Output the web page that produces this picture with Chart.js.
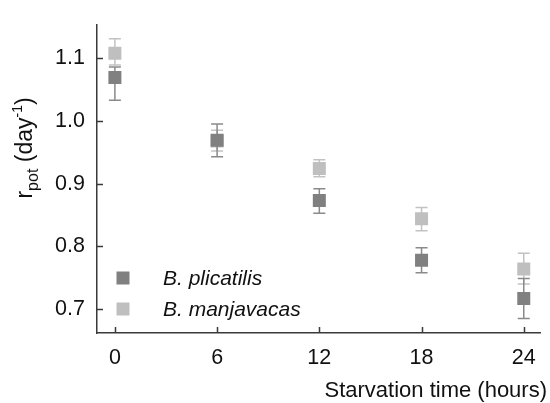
<!DOCTYPE html>
<html>
<head>
<meta charset="utf-8">
<script src="https://cdn.jsdelivr.net/npm/chart.js"></script>
<style>
  body { margin: 0; background: #fff; }
  #wrap { width: 550px; height: 403px; }
</style>
</head>
<body>
<div id="wrap"><canvas id="rpotChart" width="550" height="403"></canvas></div>
<script>
// starvation time (hours)
const times = [0, 6, 12, 18, 24];
const xTicks = [0, 6, 12, 18, 24];
const yTicks = [0.7, 0.8, 0.9, 1.0, 1.1];

// B. plicatilis
const plicatilis = [1.069, 0.969, 0.873, 0.778, 0.717];
const plicatilisLow = [1.033, 0.943, 0.853, 0.758, 0.685];
const plicatilisHigh = [1.086, 0.995, 0.892, 0.798, 0.749];

// B. manjavacas
const manjavacas = [1.108, 0.968, 0.924, 0.844, 0.764];
const manjavacasLow = [1.089, 0.952, 0.911, 0.825, 0.740];
const manjavacasHigh = [1.131, 0.985, 0.938, 0.862, 0.789];

const darkGray = '#808080';
const lightGray = '#bfbfbf';
const axisColor = '#3a3a3a';
const font = "'Liberation Sans', Arial, sans-serif";

const errorBars = {
    id: 'errorBars',
    beforeDatasetDraw(chart, args) {
        const ds = chart.data.datasets[args.index];
        const x = chart.scales.x, y = chart.scales.y;
        const ctx = chart.ctx;
        ctx.save();
        ctx.strokeStyle = ds.errColor;
        ctx.lineWidth = 1.5;
        ds.data.forEach((p, i) => {
            const px = x.getPixelForValue(p.x);
            const lo = y.getPixelForValue(ds.low[i]);
            const hi = y.getPixelForValue(ds.high[i]);
            ctx.beginPath();
            ctx.moveTo(px, lo); ctx.lineTo(px, hi);
            ctx.moveTo(px - 6, lo); ctx.lineTo(px + 6, lo);
            ctx.moveTo(px - 6, hi); ctx.lineTo(px + 6, hi);
            ctx.stroke();
        });
        ctx.restore();
    },
    afterDraw(chart) {
        const ctx = chart.ctx;
        const area = chart.chartArea;
        const x = chart.scales.x, y = chart.scales.y;
        ctx.save();
        // inward ticks
        ctx.strokeStyle = axisColor;
        ctx.lineWidth = 1.5;
        ctx.beginPath();
        yTicks.forEach(v => {
            const py = Math.round(y.getPixelForValue(v)) + 0.5;
            ctx.moveTo(area.left, py); ctx.lineTo(area.left + 6, py);
        });
        xTicks.forEach(v => {
            const px = Math.round(x.getPixelForValue(v)) + 0.5;
            ctx.moveTo(px, area.bottom); ctx.lineTo(px, area.bottom - 6);
        });
        ctx.stroke();

        // legend
        ctx.textBaseline = 'middle';
        ctx.textAlign = 'left';
        ctx.font = 'italic 21px ' + font;
        chart.data.datasets.forEach((ds, i) => {
            const cy = 278 + i * 31;
            ctx.fillStyle = ds.backgroundColor;
            ctx.fillRect(116.5, cy - 6.5, 13, 13);
            ctx.fillStyle = '#111';
            ctx.fillText(ds.label, 163, cy + 1);
        });

        // x title
        ctx.textBaseline = 'alphabetic';
        ctx.textAlign = 'right';
        ctx.font = '22px ' + font;
        ctx.fillText('Starvation time (hours)', 547, 397);

        // y title r_pot (day^-1)
        const parts = [
            { t: 'r', f: '23px ' + font, dy: 0 },
            { t: 'pot', f: '16px ' + font, dy: 6 },
            { t: ' (day', f: '23px ' + font, dy: 0 },
            { t: '-1', f: '14px ' + font, dy: -10 },
            { t: ')', f: '23px ' + font, dy: 0 }
        ];
        let total = 0;
        parts.forEach(p => { ctx.font = p.f; p.w = ctx.measureText(p.t).width; total += p.w; });
        ctx.translate(32, 148);
        ctx.rotate(-Math.PI / 2);
        ctx.textAlign = 'left';
        let cx = -total / 2;
        parts.forEach(p => {
            ctx.font = p.f;
            ctx.fillText(p.t, cx, p.dy);
            cx += p.w;
        });
        ctx.restore();
    }
};

new Chart(document.getElementById('rpotChart'), {
    type: 'scatter',
    data: {
        datasets: [
            {
                label: 'B. plicatilis',
                data: times.map((t, i) => ({ x: t, y: plicatilis[i] })),
                low: plicatilisLow,
                high: plicatilisHigh,
                backgroundColor: darkGray,
                errColor: '#8a8a8a',
                pointStyle: 'rect',
                pointRadius: 9.2,
                pointHoverRadius: 9.2,
                borderWidth: 0
            },
            {
                label: 'B. manjavacas',
                data: times.map((t, i) => ({ x: t, y: manjavacas[i] })),
                low: manjavacasLow,
                high: manjavacasHigh,
                backgroundColor: lightGray,
                errColor: '#c2c2c2',
                pointStyle: 'rect',
                pointRadius: 9.2,
                pointHoverRadius: 9.2,
                borderWidth: 0
            }
        ]
    },
    options: {
        responsive: false,
        animation: false,
        layout: { padding: { top: 11, right: 7, left: 0, bottom: 0 } },
        plugins: { legend: { display: false }, tooltip: { enabled: false } },
        scales: {
            x: {
                type: 'linear',
                min: -1.05,
                max: 25,
                afterFit: s => { s.height = 70; },
                afterBuildTicks: s => { s.ticks = xTicks.map(v => ({ value: v })); },
                grid: { display: true, drawOnChartArea: false, drawTicks: false },
                border: { display: true, color: axisColor, width: 1.5 },
                ticks: { color: '#111', font: { family: font, size: 21.5 }, padding: 12, maxRotation: 0 }
            },
            y: {
                min: 0.662,
                max: 1.153,
                afterFit: s => { s.width = 97; },
                afterBuildTicks: s => { s.ticks = yTicks.map(v => ({ value: v })); },
                grid: { display: true, drawOnChartArea: false, drawTicks: false },
                border: { display: true, color: axisColor, width: 1.5 },
                ticks: {
                    color: '#111',
                    font: { family: font, size: 21.5 },
                    padding: 12,
                    callback: v => v.toFixed(1)
                }
            }
        }
    },
    plugins: [errorBars]
});
</script>
</body>
</html>
